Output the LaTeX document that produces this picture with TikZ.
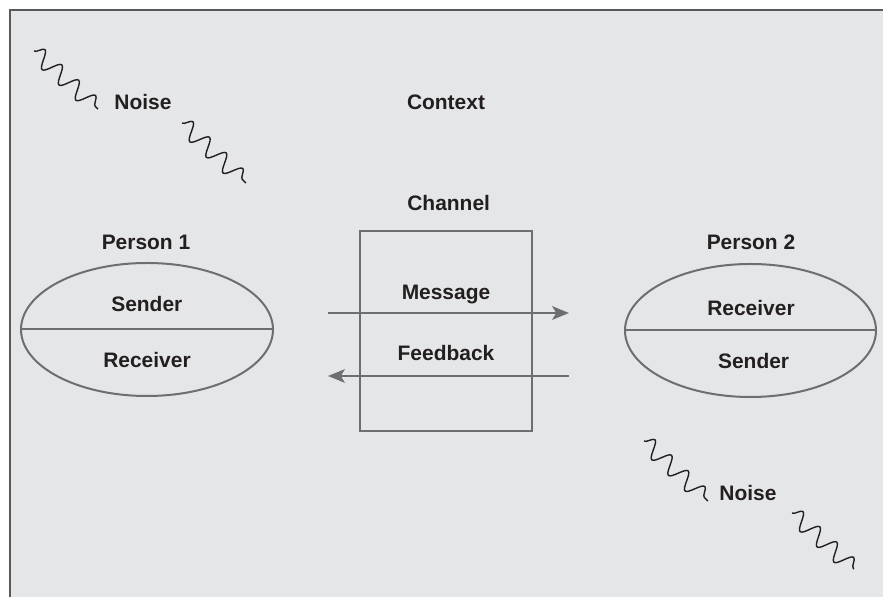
\documentclass[tikz,border=0pt]{standalone}
\usepackage{fontspec}
\setmainfont{Liberation Sans}
\usetikzlibrary{shapes.geometric, arrows.meta, decorations.pathmorphing}

\definecolor{bggray}{HTML}{E5E6E8}
\definecolor{linegray}{HTML}{6D6E71}
\definecolor{framegray}{HTML}{58595B}
\definecolor{inkdark}{HTML}{231F20}

\begin{document}
\begin{tikzpicture}[
        lbl/.style={font=\fontsize{14.9}{17}\selectfont\bfseries, text=inkdark,
            inner sep=0pt, text height=10.7pt, text depth=0pt},
        person/.style={ellipse, draw=linegray, line width=0.05cm, outer sep=0pt,
            minimum width=6.3cm, minimum height=3.325cm, inner sep=0pt},
        flow/.style={draw=linegray, line width=0.05cm,
            -{Stealth[length=0.42cm, width=0.34cm, inset=0.1cm]}},
        noisy/.style={draw=inkdark, line width=0.035cm, decorate,
            decoration={snake, segment length=0.57cm, amplitude=0.21cm}}
    ]
            \useasboundingbox (0,0) rectangle (22.075,14.925);
            \fill[bggray] (0.25,0) rectangle (22.075,14.675);
            \draw[framegray, line width=0.05cm] (0.25,0) -- (0.25,14.675) -- (22.075,14.675);

            % noise, top left
            \draw[noisy] (0.85,13.65) -- (2.45,12.2);
            \draw[noisy] (4.55,11.85) -- (6.15,10.35);
                \node[lbl] (noiseA) at (3.575,12.383) {Noise};
            \node[lbl] (context) at (11.15,12.38) {Context};

            % channel
            \node[lbl] (channel) at (11.217,9.85) {Channel};
            \node[draw=linegray, line width=0.05cm, minimum width=4.3cm, minimum height=5cm] (chanbox) at (11.15,6.65) {};
                \node[lbl] (message) at (11.15,7.6375) {Message};
                \node[lbl] (feedback) at (11.15,6.1125) {Feedback};

            \coordinate (msgfrom) at (8.2,7.1);
            \coordinate (msgto) at (14.225,7.1);
            \coordinate (fbfrom) at (14.225,5.525);
            \coordinate (fbto) at (8.2,5.525);
            \draw[flow] (msgfrom) -- (msgto);
            \draw[flow] (fbfrom) -- (fbto);

            % person 1
            \node[lbl] (personA) at (3.65,8.8825) {Person 1};
            \node[person] (ellA) at (3.675,6.6875) {};
            \draw[linegray, line width=0.05cm] (ellA.west) -- (ellA.east);
                \node[lbl] (sendA) at (3.67,7.3325) {Sender};
                \node[lbl] (recvA) at (3.675,5.9175) {Receiver};

            % person 2
            \node[lbl] (personB) at (18.775,8.875) {Person 2};
            \node[person, minimum width=6.275cm] (ellB) at (18.7625,6.6625) {};
            \draw[linegray, line width=0.05cm] (ellB.west) -- (ellB.east);
                \node[lbl] (recvB) at (18.775,7.2375) {Receiver};
                \node[lbl] (sendB) at (18.84,5.9125) {Sender};

            % noise, bottom right
            \draw[noisy] (16.1,3.9) -- (17.7,2.4);
            \draw[noisy] (19.8,2.1) -- (21.35,0.7);
                \node[lbl] (noiseB) at (18.7,2.5925) {Noise};
      \end{tikzpicture}
\end{document}
